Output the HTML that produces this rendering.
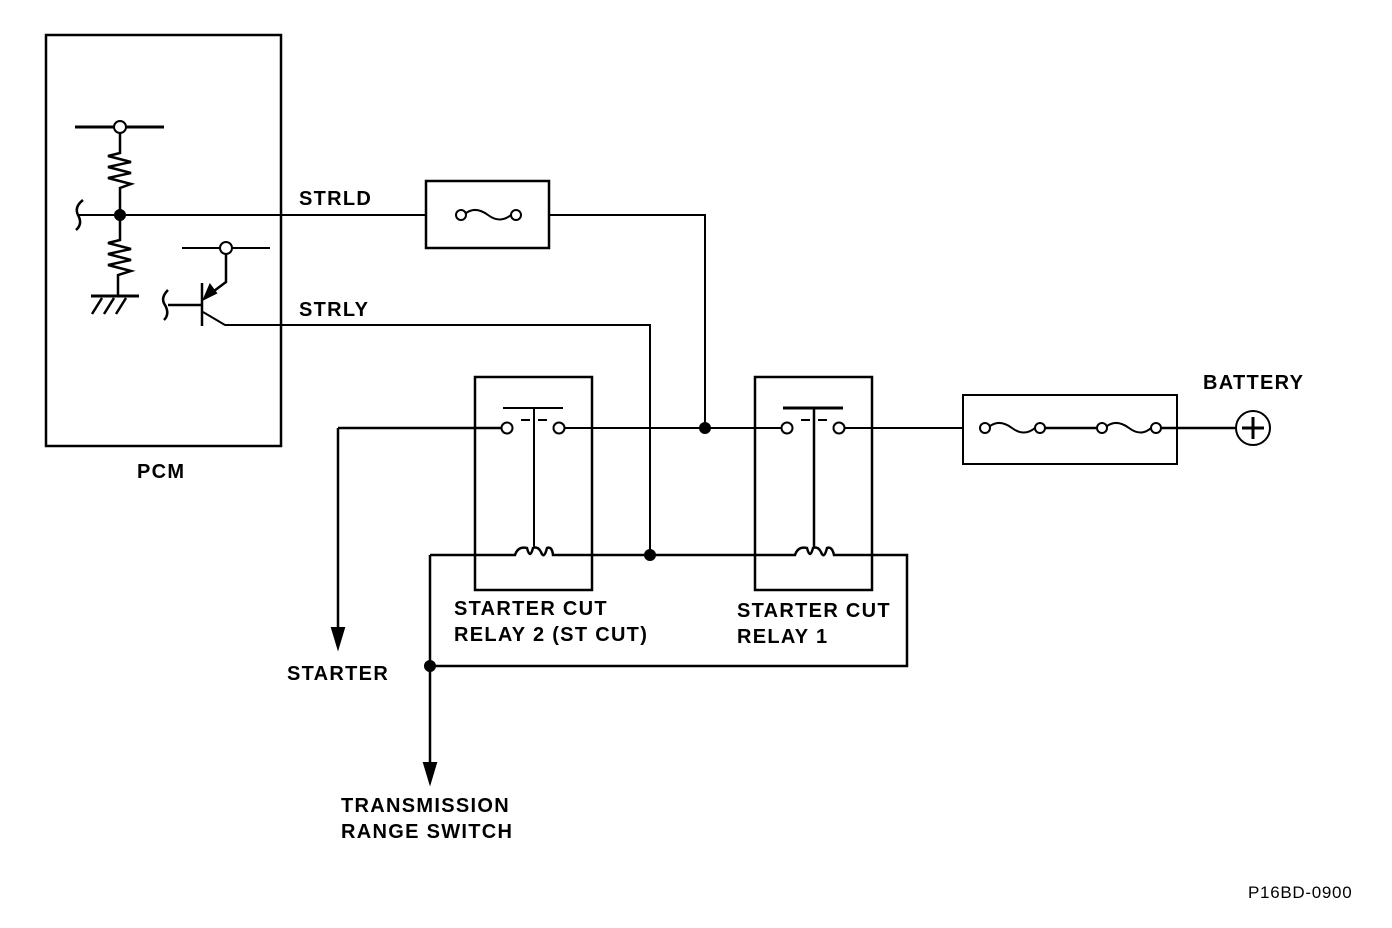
<!DOCTYPE html>
<html><head><style>body{margin:0;background:#fff}svg{display:block}text{font-family:"Liberation Sans",sans-serif;font-weight:bold;font-size:20px;letter-spacing:1.3px;fill:#000}</style></head><body>
<svg width="1392" height="928" viewBox="0 0 1392 928" fill="none" stroke="#000" stroke-width="2">
<rect x="46" y="35" width="235" height="411" stroke-width="2.5"/>
<line x1="75" y1="127" x2="164" y2="127" stroke-width="3"/>
<circle cx="120" cy="127" r="6" fill="#fff"/>
<polyline points="120,133 120,153 108,156 131,162 108,167 131,173 108,178 131,184 120,188 120,240 108,243 131,249 108,254 131,260 108,265 131,271 118,275 118,296" stroke-width="2.5"/>
<path d="M83,200 Q74,207 78,215 Q83,224 76,230" stroke-width="2.5"/>
<line x1="78" y1="215" x2="426" y2="215"/>
<circle cx="120" cy="215" r="5" fill="#000"/>
<line x1="91" y1="296" x2="139" y2="296" stroke-width="3"/>
<path d="M102,298 L92,314 M114,298 L104,314 M126,298 L116,314" stroke-width="2.5"/>
<line x1="182" y1="248" x2="270" y2="248"/>
<circle cx="226" cy="248" r="6" fill="#fff"/>
<polyline points="226,254 226,282 210,294" stroke-width="2.5"/>
<polygon points="204,299 210,285 216,293" fill="#000"/>
<line x1="202" y1="283" x2="202" y2="326" stroke-width="2.5"/>
<line x1="168" y1="305" x2="202" y2="305" stroke-width="2.5"/>
<path d="M168,290 Q160,298 165,305 Q170,314 164,320" stroke-width="2.5"/>
<polyline points="203,312 225,325 650,325 650,555"/>
<rect x="426" y="181" width="123" height="67" stroke-width="2.5"/>
<circle cx="461" cy="215" r="5" fill="#fff"/>
<circle cx="516" cy="215" r="5" fill="#fff"/>
<path d="M466,213 Q476,206 488,215 Q500,224 511,215"/>
<polyline points="549,215 705,215 705,428" stroke-width="2"/>
<circle cx="705" cy="428" r="5" fill="#000"/>
<rect x="475" y="377" width="117" height="213" stroke-width="2.5"/>
<rect x="755" y="377" width="117" height="213" stroke-width="2.5"/>
<line x1="503" y1="408" x2="563" y2="408"/>
<line x1="783" y1="408" x2="843" y2="408" stroke-width="3"/>
<line x1="534" y1="408" x2="534" y2="548"/>
<line x1="814" y1="408" x2="814" y2="548" stroke-width="2.5"/>
<path d="M521,420 H530 M538,420 H547 M801,420 H810 M818,420 H827"/>
<line x1="338" y1="428" x2="501" y2="428" stroke-width="2.5"/>
<circle cx="507" cy="428" r="5.5" fill="#fff"/>
<circle cx="559" cy="428" r="5.5" fill="#fff"/>
<line x1="565" y1="428" x2="781" y2="428"/>
<circle cx="787" cy="428" r="5.5" fill="#fff"/>
<circle cx="839" cy="428" r="5.5" fill="#fff"/>
<line x1="845" y1="428" x2="963" y2="428"/>
<line x1="338" y1="428" x2="338" y2="630" stroke-width="2.5"/>
<polygon points="332,628 344,628 338,648" fill="#000"/>
<path d="M430,555 H515 Q518,546 527,548 Q530,560 533,548 Q538,546 541,552 Q544,560 547,548 Q552,546 553,555 H795 Q798,546 807,548 Q810,560 813,548 Q818,546 821,552 Q824,560 827,548 Q832,546 834,555 H907 V666 H430" stroke-width="2.5"/>
<line x1="430" y1="555" x2="430" y2="765" stroke-width="2.5"/>
<polygon points="424,763 436,763 430,783" fill="#000"/>
<circle cx="650" cy="555" r="5" fill="#000"/>
<circle cx="430" cy="666" r="5" fill="#000"/>
<rect x="963" y="395" width="214" height="69" stroke-width="2"/>
<circle cx="985" cy="428" r="5" fill="#fff"/>
<circle cx="1040" cy="428" r="5" fill="#fff"/>
<circle cx="1102" cy="428" r="5" fill="#fff"/>
<circle cx="1156" cy="428" r="5" fill="#fff"/>
<path d="M990,426 Q1000,419 1012,428 Q1024,437 1035,428 M1107,426 Q1117,419 1129,428 Q1141,437 1151,428"/>
<line x1="1045" y1="428" x2="1097" y2="428" stroke-width="2.5"/>
<line x1="1161" y1="428" x2="1236" y2="428" stroke-width="2.5"/>
<circle cx="1253" cy="428" r="17"/>
<path d="M1242,428 H1264 M1253,417 V439" stroke-width="3"/>
<g stroke="none">
<text x="299" y="205">STRLD</text>
<text x="299" y="316">STRLY</text>
<text x="137" y="478">PCM</text>
<text x="1203" y="389">BATTERY</text>
<text x="454" y="615">STARTER CUT</text>
<text x="454" y="641">RELAY 2 (ST CUT)</text>
<text x="737" y="617">STARTER CUT</text>
<text x="737" y="643">RELAY 1</text>
<text x="287" y="680">STARTER</text>
<text x="341" y="812">TRANSMISSION</text>
<text x="341" y="838">RANGE SWITCH</text>
<text x="1248" y="898" style="font-weight:normal;font-size:17px;letter-spacing:0.7px">P16BD-0900</text>
</g>
</svg>
</body></html>
